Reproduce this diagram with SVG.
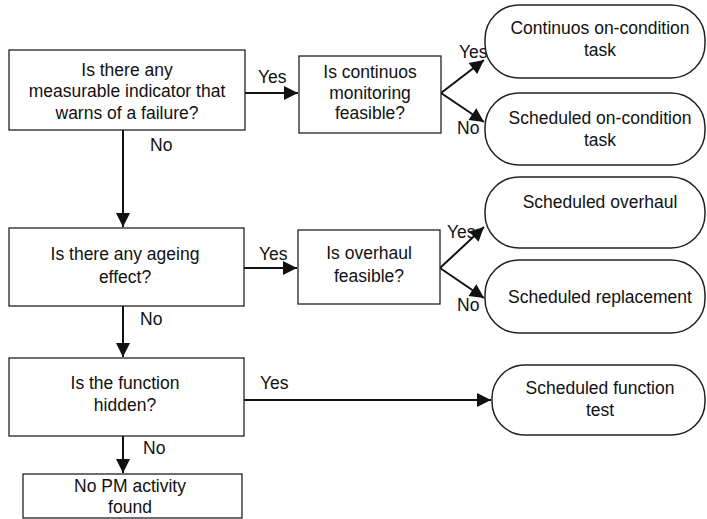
<svg xmlns="http://www.w3.org/2000/svg" width="707" height="519" viewBox="0 0 707 519">
<style>
text{font-family:"Liberation Sans",Arial,sans-serif;font-size:17.5px;fill:#111;}
.c{text-anchor:middle;}
.box{fill:#fff;stroke:#222;stroke-width:1.3;}
.term{fill:#fff;stroke:#222;stroke-width:1.5;}
.ln{fill:none;stroke:#111;stroke-width:2;}
</style>
<defs>
<marker id="ah" viewBox="0 0 10 10" refX="10" refY="5" markerWidth="7.5" markerHeight="7" markerUnits="strokeWidth" orient="auto">
<path d="M0,0 L10,5 L0,10 z" fill="#111"/>
</marker>
</defs>
<rect width="707" height="519" fill="#fff"/>
<g id="connectors">
<line class="ln" x1="245" y1="93" x2="298" y2="93" marker-end="url(#ah)"/>
<line class="ln" x1="441" y1="93" x2="484" y2="60" marker-end="url(#ah)"/>
<line class="ln" x1="441" y1="93" x2="484" y2="122" marker-end="url(#ah)"/>
<line class="ln" x1="123" y1="130" x2="123" y2="227" marker-end="url(#ah)"/>
<line class="ln" x1="244" y1="268" x2="297" y2="268" marker-end="url(#ah)"/>
<line class="ln" x1="440" y1="268" x2="484" y2="227" marker-end="url(#ah)"/>
<line class="ln" x1="440" y1="268" x2="484" y2="298" marker-end="url(#ah)"/>
<line class="ln" x1="123" y1="306" x2="123" y2="357" marker-end="url(#ah)"/>
<line class="ln" x1="244" y1="400" x2="491" y2="400" marker-end="url(#ah)"/>
<line class="ln" x1="123" y1="436" x2="123" y2="473" marker-end="url(#ah)"/>
<text x="258" y="83">Yes</text>
<text x="150" y="151">No</text>
<text x="459" y="58">Yes</text>
<text x="457" y="134">No</text>
<text x="259" y="260">Yes</text>
<text x="140" y="325">No</text>
<text x="447" y="238">Yes</text>
<text x="457" y="311">No</text>
<text x="260" y="389">Yes</text>
<text x="143" y="454">No</text>
</g>
<g id="q1">
<rect class="box" x="9" y="50" width="236" height="80"/>
<text class="c" x="127" y="76">Is there any</text>
<text class="c" x="127" y="97">measurable indicator that</text>
<text class="c" x="127" y="119">warns of a failure?</text>
</g>
<g id="q2">
<rect class="box" x="299" y="56" width="142" height="77"/>
<text class="c" x="370" y="78">Is continuos</text>
<text class="c" x="370" y="99">monitoring</text>
<text class="c" x="370" y="119">feasible?</text>
</g>
<g id="t1">
<rect class="term" x="485" y="5" width="220" height="73" rx="34" ry="34"/>
<text class="c" x="600" y="34">Continuos on-condition</text>
<text class="c" x="600" y="56">task</text>
</g>
<g id="t2">
<rect class="term" x="485" y="93" width="220" height="72" rx="34" ry="34"/>
<text class="c" x="600" y="124">Scheduled on-condition</text>
<text class="c" x="600" y="146">task</text>
</g>
<g id="q3">
<rect class="box" x="9" y="228" width="235" height="78"/>
<text class="c" x="125" y="260">Is there any ageing</text>
<text class="c" x="125" y="283">effect?</text>
</g>
<g id="q4">
<rect class="box" x="298" y="230" width="142" height="74"/>
<text class="c" x="369" y="259">Is overhaul</text>
<text class="c" x="369" y="282">feasible?</text>
</g>
<g id="t3">
<rect class="term" x="485" y="177" width="220" height="71" rx="34" ry="34"/>
<text class="c" x="600" y="208">Scheduled overhaul</text>
</g>
<g id="t4">
<rect class="term" x="485" y="260" width="220" height="73" rx="34" ry="34"/>
<text class="c" x="600" y="303">Scheduled replacement</text>
</g>
<g id="q5">
<rect class="box" x="9" y="358" width="235" height="78"/>
<text class="c" x="125" y="389">Is the function</text>
<text class="c" x="125" y="411">hidden?</text>
</g>
<g id="t5">
<rect class="term" x="492" y="365" width="213" height="70" rx="33" ry="33"/>
<text class="c" x="600" y="394">Scheduled function</text>
<text class="c" x="600" y="416">test</text>
</g>
<g id="end">
<rect class="box" x="23" y="474" width="219" height="44"/>
<text class="c" x="130" y="492">No PM activity</text>
<text class="c" x="130" y="513">found</text>
</g>
</svg>
